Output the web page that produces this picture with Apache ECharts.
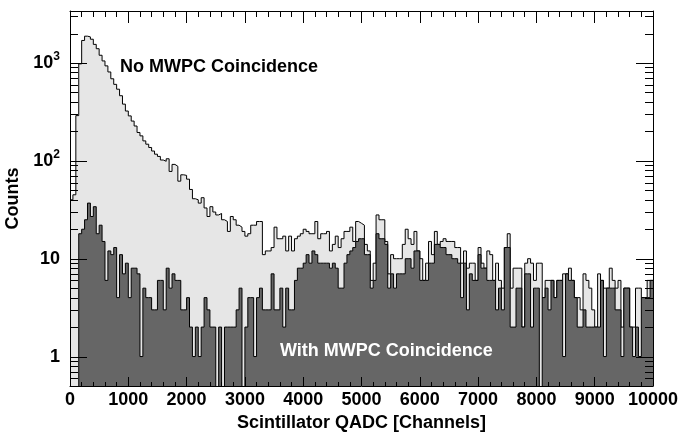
<!DOCTYPE html>
<html>
<head>
<meta charset="utf-8">
<script src="https://cdn.jsdelivr.net/npm/echarts@6/dist/echarts.min.js"></script>
<style>
html,body{margin:0;padding:0;background:#fff;}
#chart{width:693px;height:434px;}
</style>
</head>
<body>
<div id="chart"></div>
<script>
// Histogram binning (channels)
const binWidth = 50;
const xMin = 0;
const xMax = 10000;

// Counts per 50-channel bin, "No MWPC Coincidence"
const noMwpcCounts = [
  40,45,290,980,1700,1880,1850,1750,1550,1400,
  1200,1050,935,810,690,605,540,463,380,323,
  288,255,227,195,180,160,148,137,126,117,
  111,102,99,105,78,92,88,62,72,71,
  65,51,41,40,37,42,33,27,34,30,
  28,29,25,24,19,27,25,22,21,19,
  17,18,22,22,24,24,11,12,12,13,
  21,16,16,17,12,17,12,16,17,18,
  20,19,18,18,24,16,18,18,19,12,
  14,17,13,16,19,19,21,15,24,23,
  22,14,12,6,9,28,25,25,15,7,
  11,10,10,10,14,20,16,14,19,12,
  10,6,9,15,11,19,14,15,16,15,
  15,15,13,13,9,12,8,9,9,6,
  13,9,8,12,11,6,9,6,5,13,
  18,5,8,8,8,2,9,10,9,6,
  9,9,4,6,6,6,4,6,6,7,
  7,8,6,4,4,3,7,6,5,3,
  2,7,6,5,5,8,6,5,6,2,
  5,5,2,2,5,5,4,4,6,6
];

// Counts per 50-channel bin, "With MWPC Coincidence"
const withMwpcCounts = [
  0,0,0,18,20,25,37,27,34,18,
  22,15,6,12,11,13,4,11,7,9,
  4,8,8,7,1,5,4,4,3,3,
  6,6,3,8,5,7,6,6,3,3,
  4,2,1,2,1,2,4,3,2,2,
  0,2,0,2,2,2,2,3,5,0,
  2,4,4,1,4,5,3,3,3,7,
  3,3,5,2,5,3,3,6,8,8,
  9,11,9,12,11,9,9,9,9,8,
  9,8,5,5,9,11,12,13,15,16,
  16,11,11,5,6,18,16,16,14,5,
  7,5,7,7,7,10,10,8,12,12,
  6,6,6,9,9,14,14,13,13,11,
  11,10,10,9,4,9,3,7,6,6,
  11,8,8,6,6,6,3,5,3,13,
  13,2,2,5,5,2,7,7,2,5,
  5,0,4,5,3,6,4,6,6,1,
  7,6,6,4,2,2,3,2,2,2,
  2,2,6,1,5,5,5,3,3,1,
  5,5,2,1,2,1,4,4,4,6
];

// Axis ranges / ticks
const yMin = 0.5;
const yMax = 3400;
const xTickInterval = 1000;
const yMajorTicks = [1, 10, 100, 1000];
const yMinorTicks = [0.6,0.7,0.8,0.9, 2,3,4,5,6,7,8,9, 20,30,40,50,60,70,80,90,
                     200,300,400,500,600,700,800,900, 2000,3000];

const xTitle = 'Scintillator QADC [Channels]';
const yTitle = 'Counts';
const label1 = 'No MWPC Coincidence';
const label2 = 'With MWPC Coincidence';

const FONT = '"Liberation Sans", Arial, Helvetica, sans-serif';
const zeroFloor = 0.05; // empty bins on a log scale fall below the axis

function toStepData(counts) {
  const d = counts.map((c, i) => [xMin + i * binWidth, c > 0 ? c : zeroFloor]);
  const last = counts[counts.length - 1];
  d.push([xMin + counts.length * binWidth, last > 0 ? last : zeroFloor]);
  return d;
}

const tickData = yMajorTicks.map(v => [v, 1]).concat(yMinorTicks.map(v => [v, 0]));

const chart = echarts.init(document.getElementById('chart'), null, {renderer: 'canvas'});

function xAxisCfg(pos, majorLen, minorLen) {
  return {
    type: 'value', min: xMin, max: xMax, interval: xTickInterval, position: pos,
    z: 10,
    axisLine: {show: true, onZero: false, lineStyle: {color: '#000', width: 1}},
    axisTick: {show: true, inside: true, length: majorLen, lineStyle: {color: '#000', width: 1}},
    minorTick: {show: true, splitNumber: 5, length: minorLen, lineStyle: {color: '#000', width: 1}},
    splitLine: {show: false}
  };
}
const yAxisCommon = {
  type: 'log', logBase: 10, min: yMin, max: yMax, z: 10,
  axisLine: {show: true, onZero: false, lineStyle: {color: '#000', width: 1}},
  axisTick: {show: false}, minorTick: {show: false}, splitLine: {show: false}
};
const xBottom = Object.assign(xAxisCfg('bottom', 9, 4), {
  name: xTitle, nameLocation: 'middle', nameGap: 26,
  nameTextStyle: {fontFamily: FONT, fontWeight: 'bold', fontSize: 18, color: '#000'},
  axisLabel: {show: true, margin: 5, fontFamily: FONT, fontWeight: 'bold', fontSize: 18, color: '#000',
    formatter: v => String(Math.round(v))}
});
const xTop = Object.assign(xAxisCfg('top', 12, 6), {axisLabel: {show: false}});

const option = {
  animation: false,
  backgroundColor: '#fff',
  grid: {left: 70, right: 40, top: 11, bottom: 48, containLabel: false, outerBoundsMode: 'none'},
  xAxis: [xBottom, xTop],
  yAxis: [
    Object.assign({}, yAxisCommon, {
      position: 'left',
      name: yTitle, nameLocation: 'middle', nameGap: 31,
      nameTextStyle: {fontFamily: FONT, fontWeight: 'bold', fontSize: 18, color: '#000'},
      axisLabel: {
        show: true, margin: 10, fontFamily: FONT, fontWeight: 'bold', fontSize: 18, color: '#000',
        formatter: function (v) {
          const e = Math.log10(v);
          const r = Math.round(e);
          if (Math.abs(e - r) > 1e-6) return '';
          if (r === 0) return '{b|1}';
          if (r === 1) return '{b|10}';
          if (r >= 2) return '{b|10}{s|' + r + '}';
          return '';
        },
        rich: {
          b: {fontFamily: FONT, fontWeight: 'bold', fontSize: 18, color: '#000', lineHeight: 24},
          s: {fontFamily: FONT, fontWeight: 'bold', fontSize: 12, color: '#000', lineHeight: 14, verticalAlign: 'top'}
        }
      }
    }),
    Object.assign({}, yAxisCommon, {position: 'right', axisLabel: {show: false}})
  ],
  graphic: [
    {type: 'text', left: 120, top: 58, z: 20,
     style: {text: label1, fill: '#000', font: 'bold 18px ' + FONT}},
    {type: 'text', left: 280, top: 342, z: 20,
     style: {text: label2, fill: '#fff', font: 'bold 18px ' + FONT}}
  ],
  series: [
    {
      name: label1, type: 'line', step: 'end', xAxisIndex: 0, yAxisIndex: 0,
      data: toStepData(noMwpcCounts),
      symbol: 'none', silent: true, clip: true, z: 2,
      lineStyle: {color: '#000', width: 1},
      areaStyle: {color: '#e6e6e6', opacity: 1, origin: 'start'}
    },
    {
      name: label2, type: 'line', step: 'end', xAxisIndex: 0, yAxisIndex: 0,
      data: toStepData(withMwpcCounts),
      symbol: 'none', silent: true, clip: true, z: 3,
      lineStyle: {color: '#000', width: 1},
      areaStyle: {color: '#666666', opacity: 1, origin: 'start'}
    },
    {
      // log-axis ticks (majors at decades, minors at 2..9) on left and right frame
      type: 'custom', coordinateSystem: 'cartesian2d', xAxisIndex: 0, yAxisIndex: 0,
      silent: true, z: 12,
      encode: {x: 1, y: 0},
      data: tickData,
      renderItem: function (params, api) {
        const v = api.value(0);
        const major = api.value(1) === 1;
        const len = major ? 17 : 8;
        const l = api.coord([xMin, v]);
        const r = api.coord([xMax, v]);
        const y = Math.round(l[1]) + 0.5;
        const st = {stroke: '#000', lineWidth: 1};
        return {
          type: 'group',
          children: [
            {type: 'line', shape: {x1: l[0], y1: y, x2: l[0] + len, y2: y}, style: st},
            {type: 'line', shape: {x1: r[0] - len, y1: y, x2: r[0], y2: y}, style: st}
          ]
        };
      }
    }
  ]
};

chart.setOption(option);
</script>
</body>
</html>
